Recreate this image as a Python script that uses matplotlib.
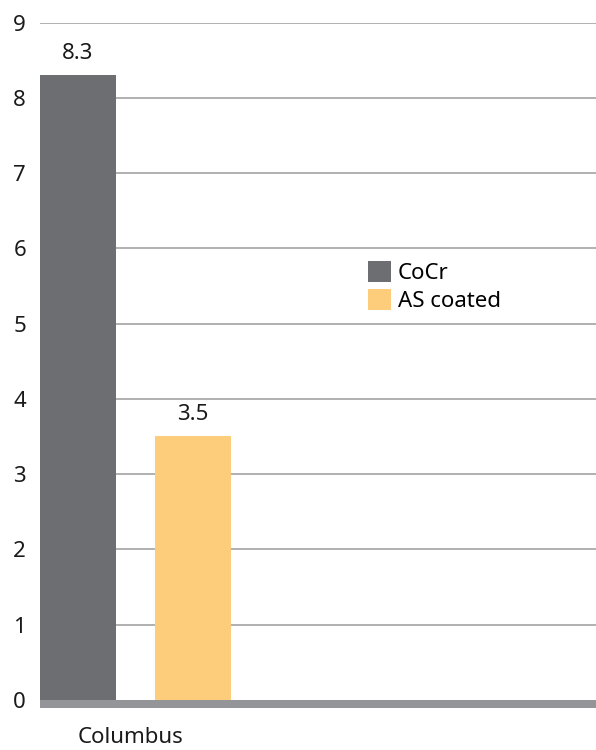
import numpy as np
import matplotlib.pyplot as plt
from matplotlib.transforms import ScaledTranslation

# values shown on the bars
groups = ["Columbus"]
series = ["CoCr", "AS coated"]
values = [[8.3], [3.5]]
labels = ["8.3", "3.5"]
colors = ["#6d6e71", "#fdcd7c"]

plt.rcParams['font.family'] = ['Noto Sans', 'DejaVu Sans']
FS = 16

fig = plt.figure(figsize=(5.96, 7.5), dpi=100)
ax = fig.add_axes([40 / 596, 42 / 750, 556 / 596, (708 - 22.7) / 750])

x = np.arange(len(groups))
width = 0.35
offsets = [-0.2675, 0.2675]

for vals, lab, col, off, name in zip(values, labels, colors, offsets, series):
    bars = ax.bar(x + off, vals, width, color=col, label=name, zorder=3)
    for b in bars:
        ax.annotate(lab, (b.get_x() + b.get_width() / 2, b.get_height()),
                    xytext=(0, 8), textcoords="offset points",
                    ha="center", va="bottom", fontsize=FS, color="#1a1a1a")

# horizontal grid
for yv in range(1, 10):
    ax.axhline(yv, color="#b0b0b0", lw=1.4, zorder=1)

# thick base band under the bars
ax.axhspan(-0.11, 0, color="#939598", lw=0, zorder=4)

ax.set_xlim(-0.443, 2.135)
ax.set_ylim(-0.11, 9)
ax.set_yticks(range(0, 10))
ax.set_xticks(x)
ax.set_xticklabels(groups)
ax.tick_params(axis="y", length=0, pad=10, labelsize=FS, colors="#1a1a1a")
ax.tick_params(axis="x", length=0, pad=14, labelsize=FS, colors="#1a1a1a")
for t in ax.get_xticklabels():
    t.set_transform(t.get_transform() + ScaledTranslation(-5 / 100, 0, fig.dpi_scale_trans))
for s in ax.spines.values():
    s.set_visible(False)

ax.legend(loc="upper left", bbox_to_anchor=(368 / 596, 1 - 261 / 750),
          bbox_transform=fig.transFigure, frameon=False, fontsize=FS,
          handlelength=1.05, handleheight=1.05, handletextpad=0.28,
          labelspacing=0.25, borderpad=0, borderaxespad=0)

fig.savefig("out.png", dpi=100)
